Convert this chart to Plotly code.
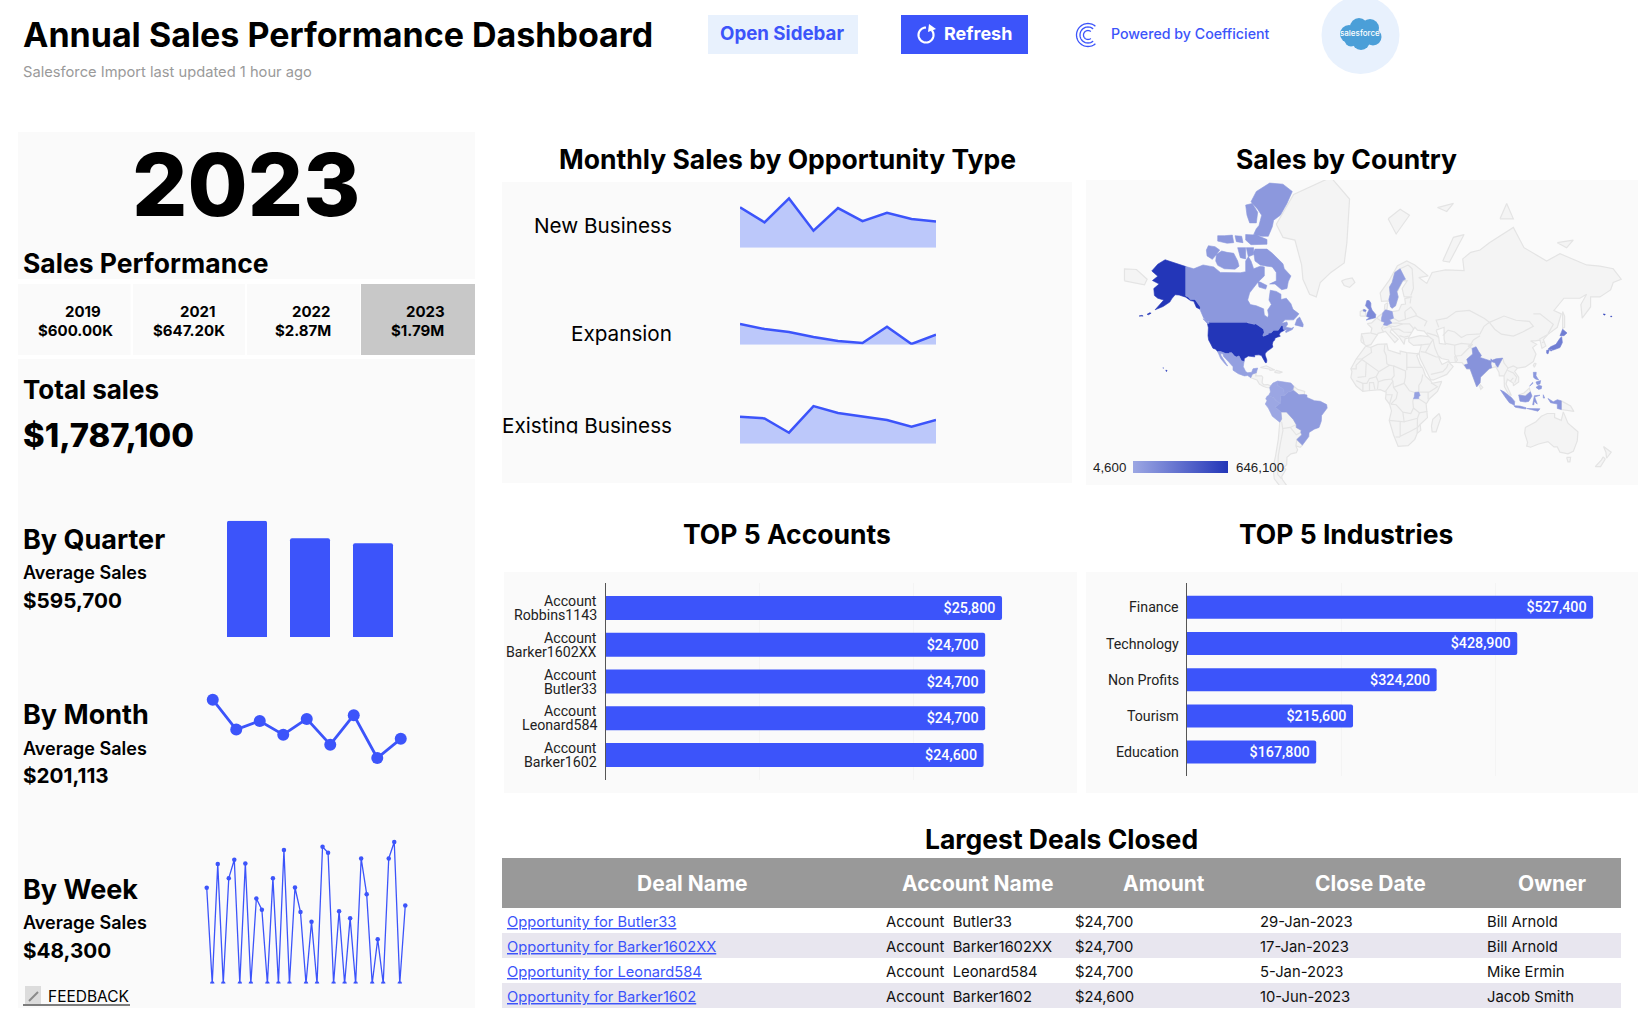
import numpy as np
import plotly.graph_objects as go
from plotly.colors import sample_colorscale

W, H = 1638, 1014
BLUE = "#3c54fa"
FONT = "Inter"

# ---- data ----
kpi_years = ["2019", "2021", "2022", "2023"]
kpi_values = ["$600.00K", "$647.20K", "$2.87M", "$1.79M"]

quarters = ["Q1", "Q2", "Q3"]
quarter_sales = [673000, 571200, 542900]

months = ["Jan", "Feb", "Mar", "Apr", "May", "Jun", "Jul", "Aug", "Sep"]
month_sales = [290000, 203000, 228000, 188000, 234000, 159000, 245000, 120000, 176000]

weeks = [f"W{i}" for i in range(1, 38)]
week_sales = [77800, 0, 97000, 0, 85600, 100500, 0, 97600, 0, 69100, 59900, 0, 85600, 0,
              108400, 0, 78000, 58000, 0, 50100, 0, 111100, 106200, 0, 58800, 0, 53100, 0,
              101600, 72600, 0, 36000, 0, 101600, 114900, 0, 63400]

new_business = [133100, 83600, 162800, 56100, 130900, 88000, 115500, 94600, 86900]
expansion = [68200, 51700, 41800, 25300, 12100, 5500, 59400, 2200, 33000]
existing_business = [89100, 83600, 36300, 124300, 101200, 90200, 78100, 56100, 78100]

countries = ["USA", "JPN", "GBR", "IND", "IDN", "PHL", "CAN", "BRA", "SWE", "DEU", "MEX",
             "UGA", "VEN", "COL", "PER"]
country_sales = [646100, 240000, 175000, 118000, 105000, 98000, 92000, 74000, 62000, 48000,
                 46000, 40000, 28000, 10400, 4600]

account_first = ["Account"] * 5
account_second = ["Robbins1143", "Barker1602XX", "Butler33", "Leonard584", "Barker1602"]
account_sales = [25800, 24700, 24700, 24700, 24600]

industries = ["Finance", "Technology", "Non Profits", "Tourism", "Education"]
industry_sales = [527400, 428900, 324200, 215600, 167800]

deal_headers = ["Deal Name", "Account Name", "Amount", "Close Date", "Owner"]
deal_names = ["Opportunity for Butler33", "Opportunity for Barker1602XX",
              "Opportunity for Leonard584", "Opportunity for Barker1602"]
deal_accounts = ["Account  Butler33", "Account  Barker1602XX", "Account  Leonard584", "Account  Barker1602"]
deal_amounts = ["$24,700", "$24,700", "$24,700", "$24,600"]
deal_dates = ["29-Jan-2023", "17-Jan-2023", "5-Jan-2023", "10-Jun-2023"]
deal_owners = ["Bill Arnold", "Bill Arnold", "Mike Ermin", "Jacob Smith"]

# ---- rough world outlines (lon, lat): plotly's geo basemap needs the network ----
LAND = [
    # greenland, iceland
    [(-73, 78.2), (-60, 82), (-32, 83.6), (-18, 81.5), (-20, 75), (-22, 70.5), (-32, 68), (-40, 65), (-43, 60), (-48, 61), (-53, 66), (-54, 70), (-59, 75.5), (-68, 76)],
    [(-24, 65.5), (-22, 64), (-18, 63.4), (-14, 65), (-16, 66.4), (-21, 66)],
    # central america, caribbean
    [(-92.2, 14.6), (-91, 17.2), (-89, 17.9), (-88, 18.2), (-88.5, 16), (-84, 15.9), (-83.2, 15), (-83.7, 11), (-82.5, 9.3), (-79.5, 9.6), (-77.3, 8.6), (-77.9, 7.2), (-80.3, 7.4), (-83, 8.3), (-85.7, 10), (-87.5, 13)],
    [(-85, 21.9), (-80.5, 23.1), (-74.2, 20.2), (-77.7, 19.9), (-78, 20.7)],
    [(-74.4, 18.4), (-73, 19.9), (-68.4, 18.6), (-71, 18)],
    # south america, what is not coloured
    [(-60, 8.5), (-57, 6), (-51.7, 4.5), (-52, 2.2), (-56, 1.9), (-60, 5.2)],
    [(-70.4, -18.3), (-69, -16), (-69.5, -10.9), (-65.3, -10.9), (-60.2, -16.3), (-58, -19.9), (-58, -22), (-54.3, -24), (-54.6, -25.5), (-53.8, -27), (-57.6, -30.2), (-53.4, -33.7), (-55, -35), (-58.3, -34.2), (-57, -36.5), (-58, -38.3), (-62, -39), (-65, -41), (-65.2, -45), (-67.5, -46.5), (-65.8, -47.5), (-69, -51), (-68.3, -52.5), (-65.2, -55), (-70, -55.5), (-74.5, -52), (-75.5, -46.5), (-73.5, -40), (-71.5, -30)],
    # africa, madagascar
    [(-6, 35.8), (-2, 35.2), (3, 36.9), (10, 37.3), (11, 33.5), (15, 32.3), (20, 31), (20, 32.8), (25, 31.8), (32, 31.2), (34.2, 31.3), (32.5, 29.9), (35, 24), (37.2, 21), (39, 16), (43.2, 12), (44, 10.5), (51.2, 11.9), (48, 4.5), (42, -1), (39.5, -5), (40.5, -15), (35, -20), (35.5, -24), (32.8, -26), (31, -30), (26, -34), (18.5, -34.5), (15, -27), (11.8, -17), (13.5, -10), (12, -5), (9, -1), (9.5, 4), (5, 5.8), (-4, 5), (-8, 4.5), (-13, 8.5), (-17, 14.7), (-16.2, 19), (-17, 21), (-13, 27.7), (-9.8, 31.5)],
    [(49.3, -12), (50.4, -15.5), (47, -25), (44, -25), (43.5, -21), (44.5, -16.2)],
    # eurasia
    [(-9.5, 38.7), (-9, 43), (-2, 43.5), (-1.2, 46), (-4.7, 48.4), (-1.5, 48.7), (1.5, 50.5), (4, 52), (8, 53.7), (8.5, 57), (10.7, 57.7), (10, 54.5), (14, 54), (19, 54.5), (21, 57), (24, 57.2), (23.5, 59.3), (29, 60), (23, 60), (21.5, 63), (25.3, 65.5), (22, 65.6), (17.5, 61.5), (18.5, 60), (16.5, 56.5), (14, 55.5), (11.5, 58.5), (6, 58.3), (5, 61.5), (12, 65.8), (18, 69.8), (25, 71), (31, 70), (41, 67), (34, 66.5), (40, 64.7), (44, 68), (54, 68.7), (68, 68.5), (67, 71.5), (73, 73), (80, 73.5), (87, 75), (105, 77.7), (113, 74), (130, 71), (140, 72.7), (160, 70), (170, 69.7), (180, 69), (186, 66), (180, 65), (178, 62.5), (170, 60), (163, 60), (163, 56), (156.7, 51), (155.7, 57), (160, 61), (155, 59.5), (143, 59.5), (135.5, 54.5), (141, 53), (138, 46.5), (131, 42.7), (127.5, 39.8), (129.4, 36), (126.5, 34.5), (125, 39.5), (121.5, 39), (118, 39), (122.5, 37), (119.5, 35), (122, 31), (120, 26), (114, 22.3), (108, 21.5), (106, 19), (109, 15), (109, 11.5), (105, 8.7), (105, 10.5), (100.5, 13.5), (99.5, 10), (103.5, 1.5), (101, 3), (98.3, 8), (98, 16), (94.5, 16), (94.2, 18.5), (91.8, 22.5), (88.5, 21.7), (86.8, 21), (80.3, 15), (80, 11), (77.5, 8), (73, 19), (72.5, 21), (70, 21), (68, 23.5), (66.5, 25.3), (57, 25.5), (56.3, 27), (51, 28), (48.5, 30), (50, 26.5), (51.5, 24), (56, 26), (59.8, 22.5), (55, 17), (45, 13), (43, 13), (39, 21), (35, 28), (34.2, 31.3), (36, 36.7), (30, 36.3), (26.5, 38.5), (26.5, 40.5), (29, 41), (35, 42), (41.5, 41.5), (38, 44.5), (33, 45), (31, 46.5), (28, 43), (26, 40.7), (23.7, 40.2), (23, 37), (19.5, 41), (13.5, 45.5), (12.5, 44), (18.5, 40), (16, 38), (12, 42), (9, 44.3), (3.5, 43.3), (0, 39.5), (-2, 36.8), (-5.5, 36)],
    # chukotka wraps round to the far left
    [(-187, 65.5), (-172, 64.2), (-170, 66), (-178, 68.8), (-187, 69)],
    # islands
    [(-10, 52), (-6, 52), (-6, 54), (-7.8, 54.3), (-7.3, 55), (-10, 54)],
    [(80, 9.7), (82, 7.5), (80.5, 6), (79.8, 8)],
    [(121, 25), (122, 24.5), (120.8, 22), (120, 23.5)],
    [(142, 54), (143.5, 52), (143.5, 46.5), (142, 46), (142, 50)],
    [(52, 71), (57, 70.7), (68, 76.5), (60, 76)],
    [(11, 79), (20, 80.3), (27, 79.5), (17, 76.6)],
    [(48, 80.5), (60, 81), (55, 80)],
    [(95, 79), (105, 79), (100, 81)],
    [(138, 75), (150, 75.5), (145, 74)],
    [(109, 1.8), (114, 1), (117.8, 4.2), (117, 7), (113, 3.3)],
    [(141, -2.6), (145, -5), (148, -6.5), (150.5, -10.5), (147, -10), (143, -9), (141, -9.1)],
    [(114, -22), (113.5, -26), (115.7, -32), (115, -34.3), (118, -35), (124, -33), (131, -31.5), (135.5, -34.8), (138, -34.8), (140, -38), (146, -39), (150, -37.5), (153, -31), (153.5, -25), (146, -19), (142.5, -10.8), (141, -17), (136, -15), (136, -12), (130.5, -12), (126, -14), (122, -18)],
    [(145, -41), (148, -41), (147.5, -43.5), (146, -43.5)],
    [(172.7, -34.5), (178.5, -38), (175, -41.5), (174.5, -38)],
    [(172.5, -40.7), (174, -42), (170.5, -46), (166.5, -46), (171, -42.5)],
]

WATER = [[(47, 45), (53, 46.5), (53, 40), (54, 37), (49.5, 37.5), (49, 41)]]

BORDERS = [
    # south america
    [(-69, -18), (-68, -24), (-70, -33), (-71.5, -40), (-72, -50), (-69, -52)],
    [(-68.5, -22.8), (-62.5, -22), (-58, -19.9)], [(-62.5, -22), (-58, -27), (-54.6, -25.5)], [(-58.3, -34.2), (-57.6, -30.2)],
    # africa
    [(-2, 35.2), (-1.5, 32), (-8.7, 27.7), (-13, 27.7)], [(8.5, 37), (8, 33), (9.5, 30), (10, 24.5), (12, 23.5)],
    [(25, 31.8), (25, 20)], [(25, 22), (37, 22)], [(15, 23), (24, 19.5), (24, 15), (23, 10.5)],
    [(12, 23.5), (15, 23), (15.5, 16), (13.6, 13.7), (8, 13), (3.6, 11.7), (2, 15.3), (4, 19), (12, 23.5)],
    [(-17, 21), (-13, 21), (-13, 23.5), (-8.7, 27.3), (-5, 25), (4, 19)], [(-12, 14.9), (-6, 15.5), (-5.5, 25)],
    [(-13, 12.5), (-8, 10.5), (-5, 10.5), (-3, 14), (2, 15.3)], [(-8, 10.5), (-8, 4.5)],
    [(-3, 5), (-3, 11), (0, 11), (1, 6)], [(3, 6.3), (3.6, 11.7)], [(13.6, 13.7), (14.5, 12), (9, 4.5)],
    [(14.5, 12), (15, 7.5), (23, 10.5), (27, 5), (31, 3.7), (34, 4), (42, 4)],
    [(37, 17), (36, 12), (34, 9), (34, 4)], [(42, 4), (48, 8), (43.2, 11)], [(34, -1), (39.5, -4.5)], [(41, -1.5), (41, 3.9)],
    [(13, -5), (17, -5.5), (22, -11), (28, -12), (30, -8), (29.5, -3), (30, -1)], [(15, 7.5), (18, 3.5), (17, -1), (13, -5)],
    [(9.5, 2), (14, 2), (12, -5)], [(30, -8), (34.5, -11.5), (40.5, -10.5)], [(11.8, -17), (23, -18), (22, -11)],
    [(23, -18), (33, -15.5), (34.5, -11.5)], [(20, -18), (20, -28), (27, -25), (33, -22), (35, -20)], [(33, -15.5), (32.8, -26)],
    [(16.5, -28.5), (20, -28.5)],
    # europe
    [(-1.8, 43.4), (3.2, 42.4)], [(2.5, 51), (6, 49.5)], [(7.5, 47.5), (6, 46), (7.5, 43.8)], [(-8.5, 42), (-7, 37.2)],
    [(15, 51), (19, 49.5), (24, 50.5), (23.5, 54)], [(13, 48.5), (17, 48.7), (22, 48.2)], [(10, 47.4), (16, 46.8), (22, 48.2)],
    [(7.5, 45.9), (12, 47), (13.7, 46)], [(13.5, 45.5), (19, 45.5), (22.5, 44), (28.5, 43.8)], [(19.5, 42), (23, 41.2), (26.3, 41.7)],
    [(22, 48.2), (27, 48.3), (30, 46), (29.5, 45.3)], [(24, 50.5), (32, 52.2), (40, 49.5), (38.2, 47)],
    [(23.5, 54), (28, 56), (32, 53), (32, 52.2)], [(27.5, 57.5), (28, 59.5)], [(28, 60.5), (30, 63), (29, 69), (26, 70)], [(20, 69), (26, 70)],
    [(12.5, 61), (12, 63.5), (14, 65), (16, 68), (20, 69)],
    # asia
    [(36, 36.7), (42.5, 37.2), (44.7, 39.7), (41.5, 41.5)], [(40, 43.5), (47, 42), (49, 41)], [(44.7, 39.7), (46, 35), (48.5, 30)],
    [(61, 36.5), (61, 31), (63, 27), (61.5, 25)], [(39, 32), (47, 29), (48.5, 29)], [(42.5, 37.2), (39, 32), (35.5, 32.5)],
    [(43, 17), (52, 19), (55, 22), (56, 24.5)], [(49, 46.5), (47, 50), (55, 51), (62, 54), (72, 54.5), (77, 53), (83, 51), (87, 49)],
    [(52, 42), (56, 45), (61, 44), (66, 41), (70, 42.5), (80, 43), (83, 47), (87, 49)], [(54, 37.5), (61, 36.5), (66, 37.5), (73, 37), (75, 39.5), (80, 42)],
    [(61, 29.5), (66, 30), (70, 33.5), (74.5, 37), (71, 36), (74, 34.5)], [(61.5, 25), (61, 29.5)],
    [(87, 49), (98, 52), (107, 50), (117, 49.5), (120, 47), (112, 44), (105, 41.8), (96, 42.8), (91, 45.5), (87, 49)],
    [(120, 53), (125, 53), (135, 48), (131, 43)], [(124.5, 40), (130.5, 42.5)], [(126.5, 38), (128.5, 38.5)],
    [(97, 28.3), (98, 25), (101, 21.5), (105, 23), (108, 21.5)], [(98, 16), (101, 21.5)], [(100.5, 20), (105, 18), (107.5, 15), (106, 11)], [(102.5, 12), (105, 14.5)],
]

COUNTRY_SHAPES = {
    "USA": [
        [(-124.7, 48.4), (-123, 49), (-95.2, 49), (-94.6, 48.7), (-91, 48.2), (-89.5, 48), (-88.4, 48.3), (-84.8, 46.9), (-84.5, 46.5), (-83.5, 46), (-82.5, 45.3), (-82.1, 43.6), (-83.1, 42.2), (-82.7, 41.7), (-79, 42.8), (-79.1, 43.3), (-76.8, 43.6), (-75, 45), (-71.5, 45), (-71, 45.3), (-70, 46.7), (-69.2, 47.4), (-68, 47.3), (-67.8, 45.7), (-67, 44.9), (-70, 43.7), (-70.8, 42.5), (-70, 41.7), (-72, 41.2), (-74, 40.6), (-74.2, 39.6), (-75.5, 38.5), (-76, 37), (-75.6, 35.3), (-77.8, 33.9), (-79.5, 33), (-81.2, 31.5), (-81.4, 30.3), (-80.1, 27), (-80.3, 25.3), (-81.2, 25.2), (-82.7, 27.8), (-83.1, 29.1), (-84.2, 30), (-86, 30.4), (-89.3, 30.3), (-89.2, 29.1), (-91.5, 29.5), (-94, 29.6), (-97, 28), (-97.2, 26), (-99.2, 26.5), (-101, 29.7), (-103, 29), (-104.5, 29.7), (-106.5, 31.8), (-108.2, 31.8), (-108.2, 31.3), (-111, 31.3), (-114.8, 32.5), (-117.1, 32.5), (-118.5, 34), (-120.6, 34.6), (-122, 36.8), (-123.8, 39.5), (-124.3, 42), (-124, 46.2)],
        [(-141, 69.6), (-148, 70.4), (-156.5, 71.3), (-162, 70.2), (-166.5, 68.4), (-162, 66.9), (-166, 65.6), (-161, 64.5), (-165, 63), (-164.5, 60.5), (-162, 59.5), (-157.5, 58.8), (-164, 54.8), (-158, 56.2), (-153, 58), (-151.5, 59.3), (-149, 60.8), (-146, 60.7), (-141, 59.9), (-137.5, 58.6), (-135, 58.3), (-133, 55.8), (-130.2, 55), (-130, 56), (-134, 59), (-137.5, 59), (-139.2, 60), (-141, 60.3)],
        [(-156, 20), (-155, 19.8), (-155.5, 19), (-156, 19.5)], [(-158.2, 21.6), (-157.6, 21.5), (-157.8, 21.2)],
        [(-176, 52), (-174, 52.3), (-173, 52), (-175, 51.8)], [(-170, 52.8), (-168, 53.5), (-167, 53.3), (-169, 52.6)],
        [(172.5, 52.9), (174, 52.8), (173.5, 52.4)], [(178, 51.9), (179, 51.9), (178.5, 51.5)],
    ],
    "CAN": [
        [(-141, 69.6), (-135, 69), (-128, 70), (-120, 69.5), (-115, 68), (-108, 68), (-100, 67.9), (-96, 68.2), (-96, 71), (-94, 72), (-92, 71), (-90, 69), (-85, 69.7), (-82, 69.5), (-82, 67), (-87, 65), (-93, 61.5), (-94.5, 58.8), (-92.5, 57), (-88, 56.5), (-82.5, 55.2), (-82, 52.5), (-79.5, 51.3), (-78.8, 52.5), (-79.5, 54.7), (-76.7, 57), (-78.5, 58.8), (-77.5, 62.4), (-73, 62), (-69.5, 61), (-69.5, 59), (-65.5, 59.5), (-62, 57.3), (-60.5, 55), (-56, 53), (-58, 51.5), (-60, 50.2), (-66.5, 50.2), (-69, 48.5), (-65, 49.2), (-64.5, 48), (-66, 46.5), (-61.5, 46), (-60, 46.5), (-61, 45.3), (-65.8, 43.7), (-66, 44.5), (-64.5, 45.4), (-67, 45), (-67.8, 45.7), (-68, 47.3), (-69.2, 47.4), (-70, 46.7), (-71, 45.3), (-71.5, 45), (-75, 45), (-76.8, 43.6), (-79.1, 43.3), (-79, 42.8), (-82.7, 41.7), (-83.1, 42.2), (-82.1, 43.6), (-82.5, 45.3), (-83.5, 46), (-84.5, 46.5), (-84.8, 46.9), (-88.4, 48.3), (-89.5, 48), (-91, 48.2), (-94.6, 48.7), (-95.2, 49), (-123, 49), (-125, 50), (-127.5, 51), (-130, 54.5), (-130, 56), (-134, 59), (-137.5, 59), (-139.2, 60), (-141, 60.3)],
        [(-89, 73.7), (-85, 73.7), (-80, 73.7), (-76, 72.8), (-71, 71.2), (-68, 70.3), (-67, 69), (-62, 67), (-64, 65.3), (-65, 63), (-69, 62.6), (-72, 63.8), (-74, 64.5), (-78, 64.5), (-73, 65.5), (-73, 68), (-76, 69.5), (-80, 69.7), (-85, 70), (-89, 71), (-90, 73)],
        [(-117, 69.9), (-112, 69), (-104, 68.9), (-101, 69.7), (-102, 71), (-105, 72.8), (-110, 73), (-114, 73.3), (-118, 72.5), (-118.5, 71)],
        [(-125, 72.2), (-121, 71.4), (-118, 72.5), (-115.5, 73.5), (-119, 74.2), (-124, 74.4), (-125.5, 73.5)],
        [(-90, 76.5), (-84, 76.2), (-79, 76.2), (-76, 77.8), (-75, 78.8), (-70, 79.5), (-65, 81), (-61, 82.3), (-68, 83), (-78, 83.1), (-88, 82.3), (-92, 81.2), (-87, 80.3), (-84, 79.5), (-86, 78), (-88, 77.5)],
        [(-96, 80.8), (-91, 81), (-87, 79.9), (-88, 78.4), (-93, 78.4), (-95, 79.5)],
        [(-96, 76.5), (-88, 76.4), (-80, 75.6), (-80, 74.7), (-92, 74.6), (-96, 75.5)],
        [(-117, 75.3), (-110, 74.9), (-105, 75), (-106, 76.4), (-112, 76.3), (-117, 76.3)],
        [(-104, 76.3), (-99, 76.2), (-98, 75), (-103, 75.2)],
        [(-102, 74), (-96, 74), (-96, 71.5), (-100, 71.8)],
        [(-95.5, 74), (-90, 74), (-90, 72.5), (-94, 72)],
        [(-87, 65.5), (-80, 64), (-81, 62.8), (-86, 63.5)], [(-59, 47.7), (-53, 46.7), (-52.8, 48), (-55.5, 51.5), (-57.5, 50.5)],
        [(-128, 50.7), (-125, 48.6), (-123.5, 48.4), (-125, 50)],
    ],
    "MEX": [[(-117.1, 32.5), (-114.8, 32.5), (-111, 31.3), (-108.2, 31.3), (-108.2, 31.8), (-106.5, 31.8), (-104.5, 29.7), (-103, 29), (-101, 29.7), (-99.2, 26.5), (-97.2, 26), (-97.8, 22.5), (-96, 19), (-94.5, 18.2), (-91.5, 18.5), (-90.5, 21), (-87, 21.5), (-88, 18.2), (-89, 17.9), (-91, 17.2), (-92.2, 14.6), (-94.5, 16.2), (-97, 15.9), (-101.5, 17.5), (-105.5, 20), (-105.5, 22.5), (-109, 26), (-112.7, 29.5), (-113, 31), (-114.7, 31.5), (-114.5, 30), (-111, 25), (-109.5, 23), (-110.3, 23.3), (-112, 25), (-114.8, 28), (-116, 30.5)]],
    "BRA": [[(-60, 5.2), (-56, 1.9), (-52, 2.2), (-50, 1.8), (-50, 0), (-44.3, -2.5), (-40, -2.9), (-35.2, -5.4), (-34.8, -8), (-37.3, -11.5), (-39, -13.5), (-39.2, -17.5), (-40.9, -22), (-44.5, -23.2), (-48.4, -25.5), (-48.6, -28.2), (-53.4, -33.7), (-57.6, -30.2), (-53.8, -27), (-54.6, -25.5), (-54.3, -24), (-58, -22), (-58, -19.9), (-60.2, -16.3), (-65.3, -10.9), (-69.5, -10.9), (-73.8, -7.4), (-70, -4.3), (-69.6, -1), (-70, 1.7), (-67, 1.2), (-64, 4), (-60.7, 5.2)]],
    "COL": [[(-77.3, 8.6), (-75.5, 10.7), (-72, 12.2), (-72.2, 9), (-67.5, 6.2), (-67, 1.2), (-70, 1.7), (-69.6, -1), (-70, -4.3), (-73, -2.5), (-75.3, -0.1), (-78.8, 1.4), (-77.4, 4), (-77.9, 7.2)]],
    "VEN": [[(-72, 12.2), (-68, 11.6), (-62, 10.7), (-60, 8.5), (-60.7, 5.2), (-64, 4), (-67, 1.2), (-67.5, 6.2), (-72.2, 9)]],
    "PER": [[(-78.8, 1.4), (-75.3, -0.1), (-73, -2.5), (-70, -4.3), (-73.8, -7.4), (-69.5, -10.9), (-69, -16), (-70.4, -18.3), (-76, -14), (-79, -8), (-81.3, -5), (-80, -2.5), (-80.9, -1), (-80, 0.8)]],
    "SWE": [[(11.5, 59), (12.5, 61), (12, 63.5), (14, 65), (16, 68), (20, 69), (24, 66), (22, 65.6), (17.5, 62), (18.5, 60), (16.5, 56.5), (14, 55.5), (12.8, 56), (11.5, 58.5)]],
    "DEU": [[(6, 51), (7, 53.5), (9, 54.8), (14, 54), (15, 51), (12, 50.3), (13.8, 48.7), (10, 47.4), (7.5, 47.7), (8.2, 49), (6, 49.5)]],
    "GBR": [
        [(-5.5, 50.1), (1.4, 51.2), (1.7, 52.7), (-1, 54.6), (-2, 56), (-2, 57.6), (-3.3, 58.6), (-5, 58.6), (-6, 56.5), (-3.3, 54.8), (-4.7, 53.3), (-5.2, 51.8), (-3, 51.3)],
        [(-7.3, 55), (-5.5, 54.6), (-6, 54), (-7.8, 54.3)],
    ],
    "UGA": [[(30, -1), (33.9, -1), (34, 0.5), (35, 1.5), (34, 4), (31, 3.7), (30.6, 0.5)]],
    "IND": [[(68.2, 23.7), (71, 24.5), (70, 27.5), (74.5, 31), (74, 34.5), (77, 35.5), (79, 32.5), (81, 30), (80, 28.7), (88, 26.4), (88.2, 27.8), (89, 26.8), (92, 27.8), (97, 28.3), (95, 25), (93.3, 22), (92, 23.5), (91.5, 25), (88.5, 26), (88.2, 24.3), (88.8, 21.7), (86.8, 21), (80.3, 15), (80, 11), (77.5, 8), (73, 19), (72.5, 21), (70, 21)]],
    "JPN": [
        [(131, 34), (135, 33.5), (140, 35), (141.8, 38), (141.3, 41.4), (140, 40.5), (137, 37), (133, 35.5)],
        [(140, 42), (143, 42), (145.3, 43.5), (142, 45.5)], [(130, 33.3), (132, 33.5), (131, 31), (130, 31.5)],
        [(132.5, 34), (134.5, 34.2), (134, 33), (132.8, 33)],
    ],
    "PHL": [
        [(120, 18.5), (122.2, 18.5), (122, 16), (124, 13), (121.5, 13.7), (120.2, 15)], [(122, 7.5), (124, 9), (126.3, 8.5), (126, 6.5), (124, 6)],
        [(122, 11.5), (125.5, 12.5), (125, 10), (122.8, 9.5)], [(117.2, 8.4), (119.5, 11.2), (119.7, 10.5), (117.8, 8.4)],
    ],
    "IDN": [
        [(95.3, 5.6), (98, 4.2), (103.5, 0), (106, -3), (105.8, -5.8), (102, -4), (98.7, 0.5)],
        [(105.3, -6.2), (110, -6.5), (114.5, -7.7), (114.3, -8.7), (106.5, -7.4)],
        [(109, 1.8), (114, 1), (117.8, 4.2), (119, 1), (116.5, -3), (114, -3.5), (110, -2.8)],
        [(119.5, -5.5), (120.8, 1.3), (125, 1.6), (121, 0.3), (123, -5), (120.5, -3), (120.5, -5.5)],
        [(131, -0.8), (135, -3.3), (138, -1.7), (141, -2.6), (141, -9.1), (138, -8.3), (138, -5), (133, -4)],
        [(115, -8.3), (119, -8.3), (125, -8.5), (123.5, -10.3), (119.5, -9.5)], [(127.5, 2), (128.5, -0.5), (127.5, -0.5)],
    ],
}


# ---- helpers: everything on the page is placed in screen pixels ----
def px(x):
    return x / W


def py(y):
    return 1 - y / H


shapes = []
annotations = []


def rect(x0, y0, x1, y1, color):
    shapes.append(dict(type="rect", xref="paper", yref="paper", x0=px(x0), x1=px(x1),
                       y0=py(y1), y1=py(y0), fillcolor=color, line_width=0, layer="below"))


def circle(cx, cy, r, color):
    shapes.append(dict(type="circle", xref="paper", yref="paper", x0=px(cx - r), x1=px(cx + r),
                       y0=py(cy + r), y1=py(cy - r), fillcolor=color, line_width=0, layer="below"))


def arc(cx, cy, r, a0, a1, color, width):
    pts = [(cx + r * np.cos(a), cy + r * np.sin(a)) for a in np.radians(np.linspace(a0, a1, 40))]
    path = "M " + " L ".join(f"{px(x):.5f},{py(y):.5f}" for x, y in pts)
    shapes.append(dict(type="path", xref="paper", yref="paper", path=path,
                       line=dict(color=color, width=width), layer="above"))


def line(x0, y0, x1, y1, color, width=1):
    shapes.append(dict(type="line", xref="paper", yref="paper", x0=px(x0), x1=px(x1),
                       y0=py(y0), y1=py(y1), line=dict(color=color, width=width), layer="above"))


def label(x, y, text, size, weight=400, color="#000000", anchor="left", family=FONT, **font_extra):
    annotations.append(dict(xref="paper", yref="paper", x=px(x), y=py(y), text=text, showarrow=False,
                            xanchor=anchor, yanchor="middle", borderpad=0,
                            font=dict(family=family, size=size, color=color, weight=weight, **font_extra)))


def mercator(lat):
    return np.log(np.tan(np.pi / 4 + np.radians(lat) / 2))


def flatten(polys, close=True):
    lon, lat = [], []
    for poly in polys:
        pts = list(poly) + ([poly[0]] if close else [])
        lon += [p[0] for p in pts] + [None]
        lat += [float(mercator(p[1])) for p in pts] + [None]
    return lon, lat


fig = go.Figure()


def axes(n, x0, x1, y0, y1, xopts, yopts):
    base = dict(showgrid=False, zeroline=False, showticklabels=False, ticks="", showline=False)
    fig.update_layout({
        f"xaxis{n}": dict(base, domain=[px(x0), px(x1)], anchor=f"y{n}", **xopts),
        f"yaxis{n}": dict(base, domain=[py(y1), py(y0)], anchor=f"x{n}", **yopts),
    })


# ---- header ----
label(22, 35, "Annual Sales Performance Dashboard", 34, 700)
label(22, 72, "Salesforce Import last updated 1 hour ago", 14.7, 400, "#9a9a9a")
rect(708, 15, 858, 54, "#e8f1fd")
label(782, 34, "Open Sidebar", 18.7, 700, BLUE, "center")
rect(901, 15, 1028, 54, BLUE)
arc(926, 35, 7.5, -40, 270, "#ffffff", 2.2)
shapes.append(dict(type="path", xref="paper", yref="paper", layer="above", fillcolor="#ffffff", line_width=0,
                   path=f"M {px(929)},{py(24)} L {px(936)},{py(29)} L {px(928)},{py(32)} Z"))
label(978, 34, "Refresh", 18, 700, "#ffffff", "center")
for r in (4.5, 8, 11.5):
    arc(1088, 35, r, 50, 310, BLUE, 1.3)
label(1110, 34, "Powered by Coefficient", 14.2, 500, BLUE)
circle(1360.5, 35, 39, "#e8f1fd")
for cx, cy, r in ((1349, 34, 9), (1359, 27, 9), (1370, 28, 9), (1373, 37, 8.5), (1361, 41, 9), (1351, 40, 6.5)):
    circle(cx, cy, r, "#4b9fd8")
label(1360, 33, "salesforce", 8, 500, "#ffffff", "center")

# ---- left column ----
rect(18, 132, 475, 279, "#fafafa")
for a, b, c in ((18, 130.5, "#fafafa"), (133, 245, "#fafafa"), (247, 360, "#fafafa"), (361, 475, "#c8c8c8")):
    rect(a, 284, b, 355, c)
rect(18, 359, 475, 1008, "#fafafa")

label(246, 184, "2023", 87, 800, anchor="center")
label(21.5, 263, "Sales Performance", 26.5, 700)
for yr, val, xa, xb in zip(kpi_years, kpi_values, (83, 197, 311, 425), (75, 189, 303, 417)):
    label(xa, 311.5, yr, 15, 700, anchor="center")
    label(xb, 330, val, 15, 700, anchor="center")
label(21.5, 389, "Total sales", 26, 700)
label(21.5, 435, "$1,787,100", 32.8, 800)
stat_rows = [("By Quarter", "$595,700", 539, 572, 600), ("By Month", "$201,113", 714, 748, 775.5),
             ("By Week", "$48,300", 889, 922.5, 950)]
for title, avg, y_title, y_avg, y_val in stat_rows:
    label(21.5, y_title, title, 27, 700)
    label(21.5, y_avg, "Average Sales", 18, 600)
    label(21.5, y_val, avg, 20.7, 700)

rect(25, 986, 41, 1004, "#dcdcdc")
line(29, 1001, 38, 992, "#8a8a8a", 2)
label(47, 996, "FEEDBACK", 15.5)
line(23, 1005, 130, 1005, "#000000", 1)

fig.add_bar(x=quarters, y=quarter_sales, xaxis="x", yaxis="y", marker=dict(color=BLUE, cornerradius=2, line_width=0),
            showlegend=False)
axes("", 215.5, 404.5, 520.7, 637, dict(range=[-0.5, 2.5]), dict(range=[0, 673000]))

fig.add_scatter(x=months, y=month_sales, xaxis="x2", yaxis="y2", mode="lines+markers",
                line=dict(color=BLUE, width=2.8), marker=dict(size=12, color=BLUE), cliponaxis=False, showlegend=False)
axes(2, 201, 412.5, 691, 766, dict(range=[-0.5, 8.5]), dict(range=[96700, 315400]))

fig.add_scatter(x=weeks, y=week_sales, xaxis="x3", yaxis="y3", mode="lines+markers",
                line=dict(color=BLUE, width=1.3), marker=dict(size=4.5, color=BLUE), showlegend=False)
axes(3, 201.2, 410.8, 823.5, 983.5, dict(range=[-1, 37]), dict(range=[0, 130000]))

# ---- monthly sales by opportunity type ----
label(787, 159, "Monthly Sales by Opportunity Type", 26.5, 700, anchor="center")
rect(502, 182, 1072, 483, "#fafafa")
spark_rows = [("New Business", new_business, 225, 247.7), ("Expansion", expansion, 333, 344.7),
              ("Existing Business", existing_business, 425, 443.7)]
for n, (name, vals, text_y, base_y) in zip((4, 5, 6), spark_rows):
    label(673, text_y, name, 20.7, 400, anchor="right")
    fig.add_scatter(x=months, y=vals, xaxis=f"x{n}", yaxis=f"y{n}", mode="lines", fill="tozeroy",
                    fillcolor="#bcc8fa", line=dict(color=BLUE, width=2.5), showlegend=False)
    axes(n, 740, 936, base_y - 54.5, base_y, dict(range=[0, 8]), dict(range=[0, 180000]))
# the descender of "Existing" is cut off by its container in the source
annotations.append(dict(xref="paper", yref="paper", x=px(560), y=py(433), xanchor="left", yanchor="top",
                        text=" ", width=120, height=12, showarrow=False, bgcolor="#fafafa", borderpad=0))

# ---- map ----
label(1346, 159, "Sales by Country", 26.5, 700, anchor="center")
rect(1086, 180, 1638, 485, "#fafafa")
MAP_SCALE = [[0, "#9ca7e3"], [1, "#2336b8"]]
land_lon, land_lat = flatten(LAND)
fig.add_scatter(x=land_lon, y=land_lat, xaxis="x9", yaxis="y9", mode="lines", fill="toself", fillcolor="#f4f4f4",
                line=dict(color="#e4e4e4", width=1.2), hoverinfo="skip", showlegend=False)
water_lon, water_lat = flatten(WATER)
fig.add_scatter(x=water_lon, y=water_lat, xaxis="x9", yaxis="y9", mode="lines", fill="toself", fillcolor="#fafafa",
                line=dict(color="#e4e4e4", width=1.2), hoverinfo="skip", showlegend=False)
border_lon, border_lat = flatten(BORDERS, close=False)
fig.add_scatter(x=border_lon, y=border_lat, xaxis="x9", yaxis="y9", mode="lines",
                line=dict(color="#e4e4e4", width=1.2), hoverinfo="skip", showlegend=False)
for code, value in zip(countries, country_sales):
    color = sample_colorscale(MAP_SCALE, (value - 4600) / (646100 - 4600))[0]
    lon, lat = flatten(COUNTRY_SHAPES[code])
    fig.add_scatter(x=lon, y=lat, xaxis="x9", yaxis="y9", mode="lines", fill="toself", fillcolor=color,
                    line=dict(color=color, width=0.6), name=code, showlegend=False)
fig.add_scatter(x=[None], y=[None], xaxis="x9", yaxis="y9", mode="markers", showlegend=False,
                marker=dict(color=[4600, 646100], cmin=4600, cmax=646100, colorscale=MAP_SCALE, showscale=True,
                            colorbar=dict(orientation="h", x=px(1133), xanchor="left", y=py(473), yanchor="bottom",
                                          len=95, lenmode="pixels", thickness=12, thicknessmode="pixels",
                                          showticklabels=False, ticks="", outlinewidth=0, xpad=0, ypad=0)))
axes(9, 1086, 1638, 180, 485, dict(range=[-215.9, 198.6]), dict(range=[-1.148, 2.849]))
label(1126.5, 467, "4,600", 13.3, 400, "#222222", "right", family="Liberation Sans")
label(1235, 467, "646,100", 13.3, 400, "#222222", family="Liberation Sans")

# ---- top 5 bars ----
label(787, 534, "TOP 5 Accounts", 26.5, 700, anchor="center")
label(1346, 534, "TOP 5 Industries", 26.5, 700, anchor="center")
rect(504, 572, 1077, 793, "#fafafa")
rect(1086, 572, 1638, 793, "#fafafa")

rows = list(range(5))
# trailing nbsp keeps the value labels off the bar end
fig.add_bar(x=account_sales, y=rows, orientation="h", xaxis="x7", yaxis="y7", showlegend=False,
            marker=dict(color=BLUE, cornerradius=2, line_width=0), width=0.65,
            text=[f"${v:,}\u00a0" for v in account_sales], textposition="inside", insidetextanchor="end", textangle=0,
            textfont=dict(family="Roboto", size=14.3, color="#ffffff", weight=500))
axes(7, 606, 1065.5, 583, 780, dict(range=[0, 29935], dtick=10000, showgrid=True, gridcolor="#f4f4f4"),
     dict(range=[4.68, -0.68], showline=True, linecolor="#555555", linewidth=1))
for i, (a, b) in enumerate(zip(account_first, account_second)):
    for txt, shift in ((a, 7), (b, -7)):
        annotations.append(dict(xref="x7", yref="y7", x=0, y=i, text=txt, showarrow=False, xanchor="right",
                                xshift=-7, yshift=shift, font=dict(family="Roboto", size=14.2, color="#222222")))

fig.add_bar(x=industry_sales, y=rows, orientation="h", xaxis="x8", yaxis="y8", showlegend=False,
            marker=dict(color=BLUE, cornerradius=2, line_width=0), width=0.635,
            text=[f"${v:,}\u00a0" for v in industry_sales], textposition="inside", insidetextanchor="end", textangle=0,
            textfont=dict(family="Roboto", size=14.3, color="#ffffff", weight=500))
axes(8, 1187, 1638, 583.4, 776, dict(range=[0, 585700], dtick=200000, showgrid=True, gridcolor="#f4f4f4"),
     dict(range=[4.66, -0.66], showline=True, linecolor="#555555", linewidth=1))
for i, name in enumerate(industries):
    annotations.append(dict(xref="x8", yref="y8", x=0, y=i, text=name, showarrow=False, xanchor="right",
                            xshift=-6, font=dict(family="Roboto", size=14.2, color="#222222")))

# ---- deals table (go.Table cannot make rows this thin) ----
label(1061, 839, "Largest Deals Closed", 26.5, 700, anchor="center")
rect(502, 858, 1621, 908, "#999999")
for h, cx in zip(deal_headers, (692, 977, 1164, 1370, 1552)):
    label(cx, 883, h, 21, 700, "#ffffff", "center")
for i, row in enumerate(zip(deal_names, deal_accounts, deal_amounts, deal_dates, deal_owners)):
    row_y = 908 + 25 * i
    if i % 2:
        rect(502, row_y, 1621, row_y + 25, "#e8e6ef")
    label(506, row_y + 14, row[0], 14.7, 400, BLUE, lineposition="under")
    for text, x in zip(row[1:], (885, 1074, 1259, 1486)):
        label(x, row_y + 14, text.replace("  ", "&nbsp; "), 14.8, 400, "#111111")

fig.update_layout(width=W, height=H, margin=dict(l=0, r=0, t=0, b=0), paper_bgcolor="#ffffff",
                  plot_bgcolor="rgba(0,0,0,0)", bargap=0.365, shapes=shapes, annotations=annotations,
                  font=dict(family=FONT), showlegend=False)

fig.write_html("out.html", config={"displayModeBar": False}, post_script="document.body.style.margin='0';")
